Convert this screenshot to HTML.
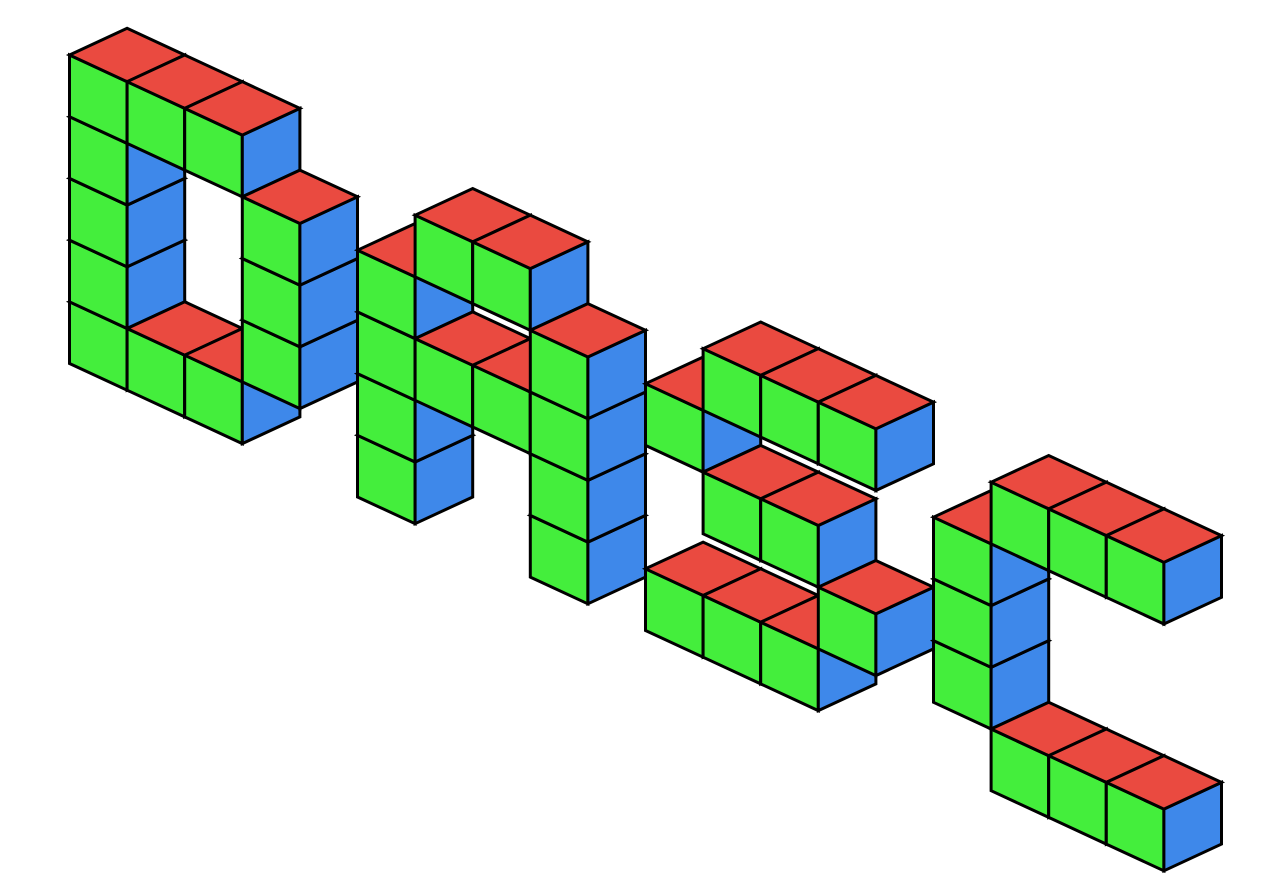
<!DOCTYPE html>
<html>
<head>
<meta charset="utf-8">
<style>
  html,body{margin:0;padding:0;background:#fff;}
  svg{display:block;}
</style>
</head>
<body>
<svg id="scene" width="1282" height="883" viewBox="0 0 1282 883" xmlns="http://www.w3.org/2000/svg">
  <title>DASC</title>
  <g id="cubes"></g>
</svg>
<script>
// Voxel data: column index (x) and level (height) for each cube, grouped by letter
const letterNames = ["D", "A", "S", "C"];
const cubeX = [
  0,0,0,0,0, 1,1, 2,2, 3,3,3,
  5,5,5,5, 6,6, 7,7, 8,8,8,8,
  10, 11,12,13, 11,12, 10,11,12, 13,
  15,15,15, 16,17,18, 16,17,18
];
const cubeLevel = [
  0,1,2,3,4, 0,4, 0,4, 1,2,3,
  0,1,2,3, 2,4, 2,4, 0,1,2,3,
  3, 4,4,4, 2,2, 0,0,0, 1,
  1,2,3, 4,4,4, 0,0,0
];
const cubeLetter = [
  0,0,0,0,0,0,0,0,0,0,0,0,
  1,1,1,1,1,1,1,1,1,1,1,1,
  2,2,2,2,2,2,2,2,2,2,
  3,3,3,3,3,3,3,3,3
];

// projection
const OX = 69.5, OY = 363.5, EX = 57.6, EY = 26.7, EH = 61.7;
function proj(x, d, l) {
  return [OX + EX * (x + d), OY + EY * (x - d) - EH * l];
}
function pts(arr) { return arr.map(p => p[0].toFixed(1) + "," + p[1].toFixed(1)).join(" "); }

const NS = "http://www.w3.org/2000/svg";
const g = document.getElementById("cubes");
const order = cubeX.map((_, i) => i).sort((a, b) =>
  (cubeX[a] + 0.865 * cubeLevel[a]) - (cubeX[b] + 0.865 * cubeLevel[b]));

order.forEach(i => {
  const x = cubeX[i], l = cubeLevel[i];
  const cg = document.createElementNS(NS, "g");
  
  
  const faces = [
    { name: "front-face", fill: "#44ee3c", p: [proj(x,0,l), proj(x+1,0,l), proj(x+1,0,l+1), proj(x,0,l+1)] },
    { name: "side-face", fill: "#3e88ea", p: [proj(x+1,0,l), proj(x+1,1,l), proj(x+1,1,l+1), proj(x+1,0,l+1)] },
    { name: "top-face", fill: "#ea4a40", p: [proj(x,0,l+1), proj(x+1,0,l+1), proj(x+1,1,l+1), proj(x,1,l+1)] }
  ];
  faces.forEach(f => {
    const poly = document.createElementNS(NS, "polygon");
    poly.setAttribute("points", pts(f.p));
    poly.setAttribute("fill", f.fill);
    poly.setAttribute("stroke", "#000");
    poly.setAttribute("stroke-width", "3");
    poly.setAttribute("stroke-linejoin", "miter");
    
    
    cg.appendChild(poly);
  });
  g.appendChild(cg);
});
</script>
</body>
</html>
